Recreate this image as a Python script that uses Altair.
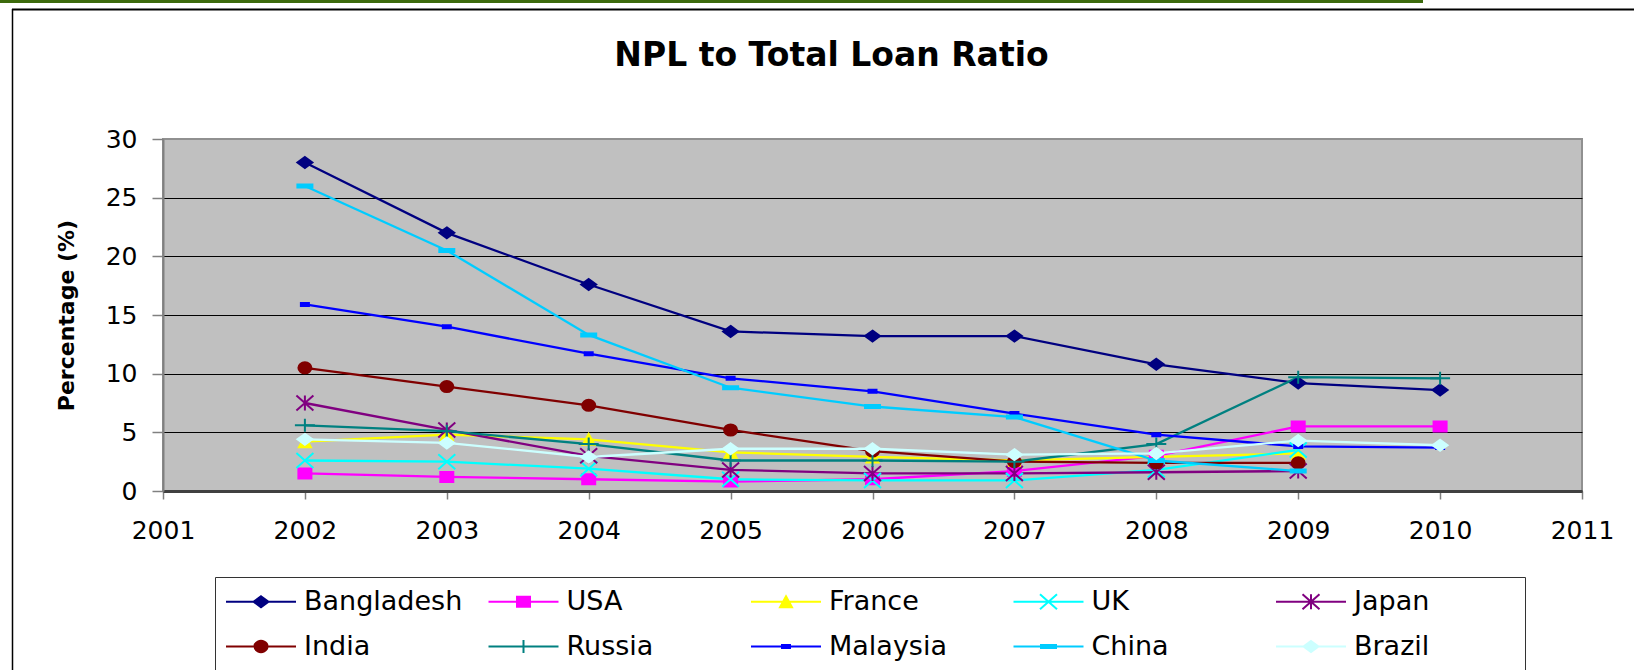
import altair as alt
import pandas as pd

# ---------------- data ----------------
years = [2002, 2003, 2004, 2005, 2006, 2007, 2008, 2009, 2010]
countries = ["Bangladesh", "USA", "France", "UK", "Japan",
             "India", "Russia", "Malaysia", "China", "Brazil"]
bangladesh = [28.0, 22.0, 17.6, 13.6, 13.2, 13.2, 10.8, 9.2, 8.6]
usa = [1.5, 1.2, 1.0, 0.8, 1.0, 1.7, 3.0, 5.5, 5.5]
france = [4.2, 4.8, 4.4, 3.3, 2.9, 2.6, 2.9, 3.2, None]
uk = [2.6, 2.5, 1.9, 1.0, 0.9, 0.9, 1.8, 3.5, None]
japan = [7.5, 5.2, 3.0, 1.8, 1.5, 1.5, 1.6, 1.7, None]
india = [10.5, 8.9, 7.3, 5.2, 3.4, 2.5, 2.4, 2.4, None]
russia = [5.6, 5.1, 4.0, 2.6, 2.6, 2.5, 4.0, 9.7, 9.6]
malaysia = [15.9, 14.0, 11.7, 9.6, 8.5, 6.6, 4.8, 3.8, 3.7]
china = [26.0, 20.5, 13.3, 8.8, 7.2, 6.3, 2.6, 1.7, None]
brazil = [4.4, 4.1, 2.9, 3.6, 3.6, 3.1, 3.2, 4.3, 3.9]
colors = ["#000080", "#FF00FF", "#FFFF00", "#00FFFF", "#800080",
          "#800000", "#008080", "#0000FF", "#00CCFF", "#CCFFFF"]
x_ticks = list(range(2001, 2012))
y_ticks = [0, 5, 10, 15, 20, 25, 30]
title_text = "NPL to Total Loan Ratio"
y_title = "Percentage (%)"

series = [bangladesh, usa, france, uk, japan, india, russia, malaysia, china, brazil]
rows = []
for c, vals in zip(countries, series):
    for yr, v in zip(years, vals):
        if v is not None:
            rows.append({"country": c, "year": yr, "value": v})
df = pd.DataFrame(rows)

# ---------------- marker styles (pixel half-width, half-height) ----------------
marker_specs = [("diamond", 7.5, 5.5), ("square", 6.5, 5.0), ("triangle", 6.0, 5.5),
                ("x", 8.5, 7.5), ("asterisk", 8.5, 7.5), ("circle", 6.5, 5.5),
                ("plus", 10.0, 6.5), ("rect", 4.0, 1.5), ("rect", 7.5, 1.5),
                ("diamond", 7.5, 5.5)]


def marker_path(kind, hw, hh, unit, cx=0.0):
    def p(x, y):
        return f"{(cx + x) / unit:.4f},{y / unit:.4f}"
    if kind == "diamond":
        return f"M{p(0, -hh)}L{p(hw, 0)}L{p(0, hh)}L{p(-hw, 0)}Z"
    if kind in ("square", "rect"):
        return f"M{p(-hw, -hh)}L{p(hw, -hh)}L{p(hw, hh)}L{p(-hw, hh)}Z"
    if kind == "triangle":
        return f"M{p(0, -hh)}L{p(hw, hh)}L{p(-hw, hh)}Z"
    if kind == "x":
        return f"M{p(-hw, -hh)}L{p(hw, hh)}M{p(-hw, hh)}L{p(hw, -hh)}"
    if kind == "asterisk":
        return (f"M{p(-hw, -hh)}L{p(hw, hh)}M{p(-hw, hh)}L{p(hw, -hh)}"
                f"M{p(0, -hh)}L{p(0, hh)}")
    if kind == "plus":
        return f"M{p(-hw, 0)}L{p(hw, 0)}M{p(0, -hh)}L{p(0, hh)}"
    if kind == "circle":
        rx, ry = hw / unit, hh / unit
        return (f"M{p(-hw, 0)}A{rx:.4f},{ry:.4f} 0 1 0 {p(hw, 0)}"
                f"A{rx:.4f},{ry:.4f} 0 1 0 {p(-hw, 0)}Z")
    return ""


PLOT_UNIT = 10.0          # size 400 -> 1 unit = 10 px
LEG_UNIT = 12.0           # size 576 -> 1 unit = 12 px
LEG_CENTER = 13.5         # symbol centre inside legend entry
LINE_START, LINE_END, MARK_AT = 0.0, 70.0, 35.0

plot_paths = [marker_path(k, w, h, PLOT_UNIT) for k, w, h in marker_specs]
legend_paths = [
    f"M{(LINE_START - LEG_CENTER) / LEG_UNIT:.4f},0H{(LINE_END - LEG_CENTER) / LEG_UNIT:.4f}"
    + marker_path(k, w, h, LEG_UNIT, cx=MARK_AT - LEG_CENTER)
    for k, w, h in marker_specs
]

W, H = 1419, 352
PAD_L, PAD_T = 163, 139

font = "DejaVu Sans"

x_enc = alt.X("year:Q",
              scale=alt.Scale(domain=[2001, 2011], nice=False, zero=False),
              axis=alt.Axis(values=x_ticks, format="d", title=None, grid=False,
                            domainColor="#404040", domainWidth=3,
                            tickColor="#808080", tickSize=8, tickWidth=1.5,
                            labelFont=font, labelFontSize=25, labelColor="black",
                            labelPadding=19, labelFlush=False, labelOverlap=False))
y_enc = alt.Y("value:Q",
              scale=alt.Scale(domain=[0, 30], nice=False),
              axis=alt.Axis(values=y_ticks, title=y_title, grid=True,
                            gridColor=alt.condition("datum.value == 30",
                                                    alt.value("transparent"),
                                                    alt.value("black")),
                            gridWidth=1.2,
                            domainColor="#808080", domainWidth=2,
                            tickColor="#808080", tickSize=11, tickWidth=1.5,
                            labelFont=font, labelFontSize=25, labelColor="black",
                            labelPadding=15,
                            titleFont=font, titleFontSize=22, titleFontWeight="bold",
                            titleColor="black", titlePadding=27))

base = alt.Chart(df)

lines = base.mark_line(strokeWidth=2.3).encode(
    x=x_enc, y=y_enc,
    color=alt.Color("country:N", scale=alt.Scale(domain=countries, range=colors),
                    legend=None),
)

points = base.mark_point(opacity=1, strokeWidth=2, size=400).encode(
    x=x_enc, y=y_enc,
    fill=alt.Fill("country:N", scale=alt.Scale(domain=countries, range=colors), legend=None),
    stroke=alt.Stroke("country:N", scale=alt.Scale(domain=countries, range=colors), legend=None),
    shape=alt.Shape("country:N", scale=alt.Scale(domain=countries, range=plot_paths), legend=None),
)

leg = alt.Legend(title=" ", titleOrient="right", titlePadding=85, titleFontSize=4,
                 orient="none", legendX=215 - PAD_L, legendY=577 - PAD_T,
                 columns=5, gridAlign="all", columnPadding=21.5, rowPadding=17,
                 symbolSize=576, symbolStrokeWidth=2, symbolOpacity=1,
                 labelFont=font, labelFontSize=27, labelColor="black",
                 labelOffset=51, labelLimit=400, padding=11,
                 strokeColor="#333333", fillColor="white", direction="horizontal")

legend_layer = base.transform_filter("false").mark_point(opacity=1, strokeWidth=2).encode(
    x=x_enc, y=y_enc,
    fill=alt.Fill("country:N", scale=alt.Scale(domain=countries, range=colors), legend=leg),
    stroke=alt.Stroke("country:N", scale=alt.Scale(domain=countries, range=colors), legend=leg),
    shape=alt.Shape("country:N", scale=alt.Scale(domain=countries, range=legend_paths), legend=leg),
)

deco = alt.Chart(pd.DataFrame({"k": [0]}))
green_bar = deco.mark_rule(color="#3c6a0c", strokeWidth=3).encode(
    x=alt.value(-PAD_L), x2=alt.value(1423 - PAD_L), y=alt.value(1.5 - PAD_T))
top_line = deco.mark_rule(color="black", strokeWidth=2).encode(
    x=alt.value(12 - PAD_L), x2=alt.value(1634 - PAD_L), y=alt.value(9.5 - PAD_T))
left_line = deco.mark_rule(color="black", strokeWidth=1.5).encode(
    x=alt.value(12.5 - PAD_L), y=alt.value(9 - PAD_T), y2=alt.value(670 - PAD_T))

chart = alt.layer(lines, points, legend_layer, green_bar, top_line, left_line).resolve_scale(
    fill="independent", stroke="independent", shape="independent"
).properties(
    width=W, height=H,
    title=alt.TitleParams(title_text, font=font, fontSize=33, fontWeight="bold",
                          color="black", anchor="middle", frame="group", dx=-41,
                          baseline="alphabetic", offset=-99),
    padding={"left": PAD_L, "top": PAD_T, "right": 1634 - PAD_L - W, "bottom": 670 - PAD_T - H},
    autosize=alt.AutoSizeParams(type="none"),
    background="white",
).configure_view(
    fill="#C0C0C0", stroke="#909090", strokeWidth=2
)

chart.save("out.html", embed_options={"renderer": "svg", "actions": False})
